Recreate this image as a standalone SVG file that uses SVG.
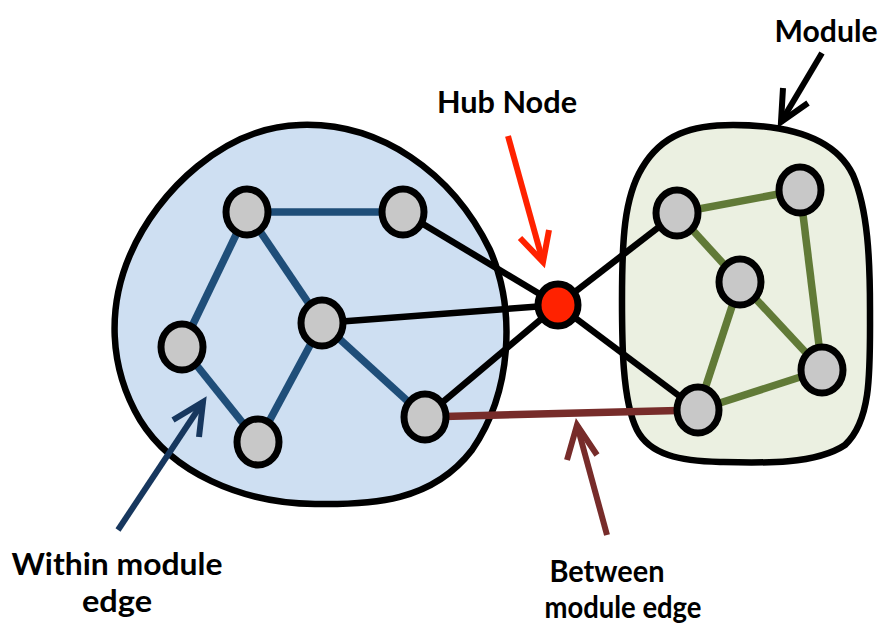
<svg xmlns="http://www.w3.org/2000/svg" width="881" height="626" viewBox="0 0 881 626">
  <style>
    .module { stroke: #000; stroke-width: 6.5; }
    .blue { fill: #CEDFF2; }
    .green { fill: #EBF0E1; }
    .node { fill: #C8C8C8; stroke: #000; stroke-width: 7; }
    .hub { fill: #FF2200; stroke: #000; stroke-width: 7; }
    .e-in-b { stroke: #1F4E79; stroke-width: 7.5; fill: none; }
    .e-in-g { stroke: #617A37; stroke-width: 7.5; fill: none; }
    .e-hub { stroke: #000; stroke-width: 6.5; fill: none; }
    .e-btw { stroke: #772C2A; stroke-width: 7.5; fill: none; }
    .ann { fill: none; stroke-width: 6; stroke-linejoin: miter; }
    .lbl { font-family: Lato, "Open Sans", "Liberation Sans", sans-serif; font-weight: bold; font-size: 31px; fill: #000; text-anchor: middle; }
  </style>

  <g id="module-blue">
    <path class="module blue" d="M300,125 C380,122 452,172 490,250 C516,310 512,392 472,450 C432,502 372,505 315,504 C240,503 172,472 140,420 C108,366 108,306 130,255 C158,190 225,127 300,125 Z"/>
  </g>
  <g id="module-green">
    <path class="module green" d="M733,125 C792,125 836,140 853,175 C868,210 870,260 870,310 C870,370 872,420 845,445 C815,465 760,463 720,462 C680,461 650,455 637,430 C622,400 622,340 622,300 C622,240 624,198 642,168 C662,134 692,125 733,125 Z"/>
  </g>

  <g id="connectors">
    <line class="e-in-b" x1="247" y1="212" x2="403" y2="212"/>
    <line class="e-in-b" x1="247" y1="212" x2="182" y2="347"/>
    <line class="e-in-b" x1="247" y1="212" x2="322" y2="323"/>
    <line class="e-in-b" x1="182" y1="347" x2="258" y2="442"/>
    <line class="e-in-b" x1="258" y1="442" x2="322" y2="323"/>
    <line class="e-in-b" x1="322" y1="323" x2="425" y2="417"/>
    <line class="e-hub" x1="403" y1="212" x2="558" y2="305"/>
    <line class="e-hub" x1="322" y1="323" x2="558" y2="305"/>
    <line class="e-hub" x1="425" y1="417" x2="558" y2="305"/>
    <line class="e-hub" x1="558" y1="305" x2="677" y2="213"/>
    <line class="e-hub" x1="558" y1="305" x2="698" y2="410"/>
    <line class="e-btw" x1="425" y1="417" x2="698" y2="410"/>
    <line class="e-in-g" x1="677" y1="213" x2="800" y2="190"/>
    <line class="e-in-g" x1="677" y1="213" x2="740" y2="282"/>
    <line class="e-in-g" x1="740" y1="282" x2="698" y2="410"/>
    <line class="e-in-g" x1="740" y1="282" x2="822" y2="370"/>
    <line class="e-in-g" x1="800" y1="190" x2="822" y2="370"/>
    <line class="e-in-g" x1="698" y1="410" x2="822" y2="370"/>
  </g>

  <g id="nodes">
    <ellipse id="b1" class="node" cx="247" cy="212" rx="21" ry="23"/>
    <ellipse id="b2" class="node" cx="403" cy="212" rx="21" ry="23"/>
    <ellipse id="b3" class="node" cx="322" cy="323" rx="21" ry="23"/>
    <ellipse id="b4" class="node" cx="182" cy="347" rx="21" ry="23"/>
    <ellipse id="b5" class="node" cx="258" cy="442" rx="21" ry="23"/>
    <ellipse id="b6" class="node" cx="425" cy="417" rx="21" ry="23"/>
    <ellipse id="hub" class="hub" cx="558" cy="305" rx="20" ry="21"/>
    <ellipse id="g1" class="node" cx="677" cy="213" rx="21" ry="23"/>
    <ellipse id="g2" class="node" cx="800" cy="190" rx="21" ry="23"/>
    <ellipse id="g3" class="node" cx="740" cy="282" rx="21" ry="23"/>
    <ellipse id="g4" class="node" cx="822" cy="370" rx="21" ry="23"/>
    <ellipse id="g5" class="node" cx="698" cy="410" rx="21" ry="23"/>
  </g>

  <g id="annotations">
    <g id="ann-hub">
      <line class="ann" stroke="#FF2200" x1="508" y1="136" x2="543" y2="262"/>
      <polyline class="ann" stroke="#FF2200" points="520,238 543,262 549,230"/>
      <text class="lbl" x="507" y="113" textLength="140" lengthAdjust="spacingAndGlyphs">Hub Node</text>
    </g>
    <g id="ann-module">
      <line class="ann" stroke="#000" x1="822" y1="53" x2="781" y2="122"/>
      <polyline class="ann" stroke="#000" points="783,88 781,122 808,103"/>
      <text class="lbl" x="826" y="42" textLength="103" lengthAdjust="spacingAndGlyphs">Module</text>
    </g>
    <g id="ann-within">
      <line class="ann" stroke="#17375E" x1="118" y1="530" x2="203" y2="402"/>
      <polyline class="ann" stroke="#17375E" points="173,420 203,402 199,437"/>
      <text class="lbl" x="117" y="575" textLength="211" lengthAdjust="spacingAndGlyphs">Within module</text>
      <text class="lbl" x="117" y="612" textLength="70" lengthAdjust="spacingAndGlyphs">edge</text>
    </g>
    <g id="ann-between">
      <line class="ann" stroke="#772C2A" x1="607" y1="535" x2="577" y2="425"/>
      <polyline class="ann" stroke="#772C2A" points="567,460 577,425 597,455"/>
      <text class="lbl" x="607" y="582" textLength="115" lengthAdjust="spacingAndGlyphs">Between</text>
      <text class="lbl" x="623" y="618" textLength="157" lengthAdjust="spacingAndGlyphs">module edge</text>
    </g>
  </g>
</svg>
